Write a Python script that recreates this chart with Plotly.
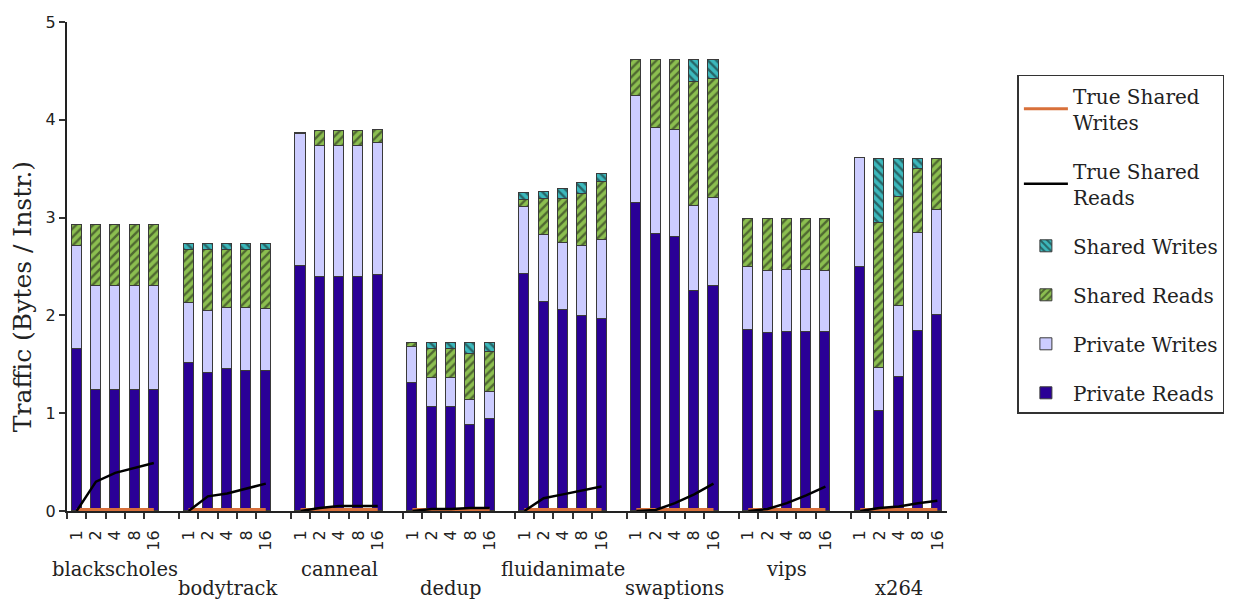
import plotly.graph_objects as go

# ---- data -------------------------------------------------------------
benchmarks = ["blackscholes", "bodytrack", "canneal", "dedup",
              "fluidanimate", "swaptions", "vips", "x264"]
threads = ["1", "2", "4", "8", "16"]

# Traffic in bytes per instruction, one row per benchmark, one column per thread count
private_reads = [
    [1.66, 1.24, 1.24, 1.24, 1.24],
    [1.51, 1.41, 1.45, 1.43, 1.43],
    [2.51, 2.39, 2.39, 2.39, 2.41],
    [1.31, 1.06, 1.06, 0.88, 0.94],
    [2.42, 2.14, 2.055, 1.99, 1.96],
    [3.15, 2.83, 2.805, 2.25, 2.30],
    [1.85, 1.82, 1.83, 1.83, 1.83],
    [2.50, 1.02, 1.37, 1.84, 2.00],
]
private_writes = [
    [1.05, 1.06, 1.06, 1.06, 1.06],
    [0.62, 0.635, 0.63, 0.65, 0.635],
    [1.34, 1.34, 1.34, 1.34, 1.35],
    [0.37, 0.30, 0.30, 0.255, 0.28],
    [0.685, 0.68, 0.685, 0.72, 0.81],
    [1.09, 1.09, 1.095, 0.87, 0.90],
    [0.64, 0.63, 0.63, 0.63, 0.62],
    [1.11, 0.44, 0.73, 1.00, 1.08],
]
shared_reads = [
    [0.21, 0.62, 0.62, 0.62, 0.62],
    [0.54, 0.625, 0.59, 0.59, 0.605],
    [0.02, 0.155, 0.155, 0.155, 0.14],
    [0.04, 0.30, 0.30, 0.475, 0.41],
    [0.075, 0.37, 0.45, 0.53, 0.59],
    [0.37, 0.69, 0.71, 1.27, 1.22],
    [0.50, 0.54, 0.53, 0.53, 0.54],
    [0.0, 1.48, 1.11, 0.66, 0.52],
]
shared_writes = [
    [0.0, 0.0, 0.0, 0.0, 0.0],
    [0.06, 0.06, 0.06, 0.06, 0.06],
    [0.0, 0.0, 0.0, 0.0, 0.0],
    [0.0, 0.06, 0.06, 0.11, 0.09],
    [0.07, 0.07, 0.10, 0.11, 0.09],
    [0.0, 0.0, 0.0, 0.22, 0.19],
    [0.0, 0.0, 0.0, 0.0, 0.0],
    [0.0, 0.66, 0.39, 0.10, 0.0],
]
true_shared_reads = [
    [0.0, 0.30, 0.39, 0.44, 0.49],
    [0.0, 0.15, 0.18, 0.23, 0.28],
    [0.0, 0.03, 0.05, 0.05, 0.05],
    [0.0, 0.02, 0.02, 0.03, 0.03],
    [0.0, 0.13, 0.17, 0.21, 0.25],
    [0.0, 0.01, 0.08, 0.17, 0.28],
    [0.0, 0.02, 0.08, 0.16, 0.25],
    [0.0, 0.03, 0.045, 0.08, 0.105],
]
true_shared_writes = [
    [0.015, 0.015, 0.015, 0.015, 0.015],
    [0.015, 0.015, 0.015, 0.015, 0.015],
    [0.015, 0.015, 0.015, 0.015, 0.015],
    [0.015, 0.015, 0.015, 0.015, 0.015],
    [0.015, 0.015, 0.015, 0.015, 0.015],
    [0.015, 0.015, 0.015, 0.015, 0.015],
    [0.015, 0.015, 0.015, 0.015, 0.015],
    [0.015, 0.015, 0.015, 0.015, 0.015],
]

# ---- layout helpers ---------------------------------------------------
GROUP_STRIDE = 5.8      # distance between first bars of consecutive benchmarks
BAR_WIDTH = 0.52
n_thr = len(threads)

xs = [g * GROUP_STRIDE + i for g in range(len(benchmarks)) for i in range(n_thr)]
edges = [x - 0.5 for x in xs]
x_min = -0.5
x_max = (len(benchmarks) - 1) * GROUP_STRIDE + n_thr - 0.5


def flat(rows):
    return [v for row in rows for v in row]


def segmented(rows):
    """x/y with a gap between benchmarks so each group gets its own line."""
    lx, ly = [], []
    for g, row in enumerate(rows):
        for i, v in enumerate(row):
            lx.append(g * GROUP_STRIDE + i)
            ly.append(v)
        lx.append(None)
        ly.append(None)
    return lx, ly


SERIF = "DejaVu Serif"
SANS = "DejaVu Sans"
TEXT = "#222222"
EDGE = dict(color="#3a3a3a", width=1)

fig = go.Figure()

fig.add_trace(go.Bar(
    x=xs, y=flat(private_reads), name="Private Reads", width=BAR_WIDTH,
    marker=dict(color="#2a0096", line=EDGE), legendrank=6,
    legendgroup="pr"))
fig.add_trace(go.Bar(
    x=xs, y=flat(private_writes), name="Private Writes", width=BAR_WIDTH,
    marker=dict(color="#ccccff", line=EDGE), legendrank=5,
    legendgroup="pw"))
fig.add_trace(go.Bar(
    x=xs, y=flat(shared_reads), name="Shared Reads", width=BAR_WIDTH,
    marker=dict(color="#8cbf50", line=EDGE,
                pattern=dict(shape="/", fgcolor="#111111", bgcolor="#8cbf50",
                             size=6, solidity=0.4, fillmode="overlay")),
    legendrank=4, legendgroup="sr"))
fig.add_trace(go.Bar(
    x=xs, y=flat(shared_writes), name="Shared Writes", width=BAR_WIDTH,
    marker=dict(color="#3cb8bc", line=EDGE,
                pattern=dict(shape="\\", fgcolor="#111111", bgcolor="#3cb8bc",
                             size=6, solidity=0.4, fillmode="overlay")),
    legendrank=3, legendgroup="sw"))

lx, ly = segmented(true_shared_writes)
fig.add_trace(go.Scatter(
    x=lx, y=ly, mode="lines", name="True Shared<br>Writes",
    line=dict(color="#d8703a", width=3), legendrank=1, legendgroup="tsw"))
lx, ly = segmented(true_shared_reads)
fig.add_trace(go.Scatter(
    x=lx, y=ly, mode="lines", name="True Shared<br>Reads",
    line=dict(color="#000000", width=2.5), legendrank=2, legendgroup="tsr"))

# thread-count labels live on an overlaid axis so the tick marks can sit
# on the bar slot edges while the labels sit under the bars
fig.add_trace(go.Scatter(x=[x_min, x_max], y=[None, None], xaxis="x2",
                         showlegend=False, hoverinfo="skip"))

# benchmark names, alternating between two rows
for g, name in enumerate(benchmarks):
    fig.add_annotation(
        x=g * GROUP_STRIDE + (n_thr - 1) / 2, y=0, xref="x", yref="y",
        text=name, showarrow=False, yanchor="middle",
        yshift=-58 if g % 2 == 0 else -77,
        font=dict(family=SERIF, size=19.5, color=TEXT))

# y-axis title
fig.add_annotation(
    x=-0.051, y=0.4376, xref="paper", yref="paper",
    text="Traffic (Bytes / Instr.)", textangle=-90, showarrow=False,
    xanchor="center", yanchor="middle",
    font=dict(family=SERIF, size=25, color=TEXT))

fig.update_layout(
    width=1241, height=601,
    margin=dict(l=67, r=294, t=22, b=90),
    paper_bgcolor="white", plot_bgcolor="white",
    barmode="stack", bargap=0,
    showlegend=True,
    legend=dict(
        x=1.08, y=0.892, xanchor="left", yanchor="top",
        font=dict(family=SERIF, size=20, color=TEXT),
        bordercolor="#333333", borderwidth=1.5,
        tracegroupgap=20, itemwidth=44),
    xaxis=dict(
        range=[x_min, x_max], tickmode="array", tickvals=edges,
        ticktext=[""] * len(edges), ticks="outside", ticklen=6,
        tickwidth=1.5, tickcolor="#333333", layer="below traces",
        showline=True, linecolor="#222222", linewidth=2,
        showgrid=False, zeroline=False),
    xaxis2=dict(
        overlaying="x", anchor="y", side="bottom",
        range=[x_min, x_max], tickmode="array", tickvals=xs,
        ticktext=threads * len(benchmarks), tickangle=-90,
        ticks="outside", ticklen=12, tickcolor="rgba(0,0,0,0)",
        tickfont=dict(family=SANS, size=16, color=TEXT),
        showline=False, showgrid=False, zeroline=False),
    yaxis=dict(
        range=[0, 5], tickmode="array", tickvals=[0, 1, 2, 3, 4, 5],
        ticks="outside", ticklen=6, tickwidth=1.5, tickcolor="#333333",
        tickfont=dict(family=SANS, size=16, color=TEXT),
        showline=True, linecolor="#222222", linewidth=2,
        showgrid=False, zeroline=False),
)

fig.write_html("out.html")
